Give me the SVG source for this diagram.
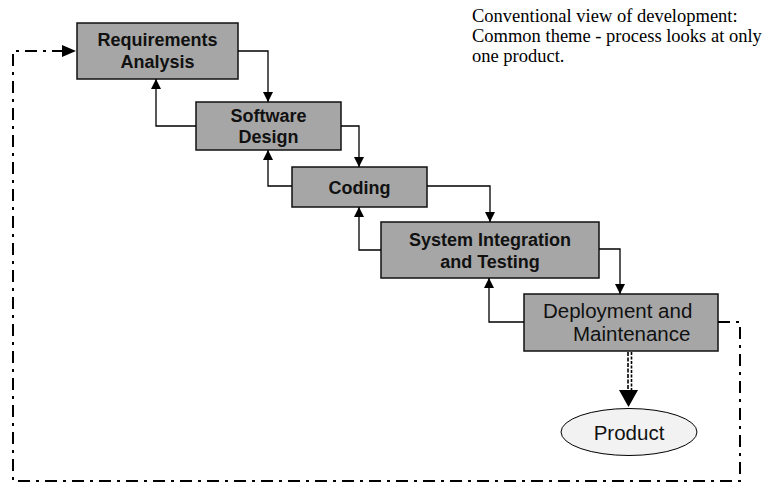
<svg xmlns="http://www.w3.org/2000/svg" width="767" height="483" viewBox="0 0 767 483">
  <defs>
    <marker id="arrow" viewBox="0 0 10 10" refX="10" refY="5" markerWidth="10" markerHeight="10" markerUnits="userSpaceOnUse" orient="auto">
      <path d="M0,0 L10,5 L0,10 Z" fill="#000"/>
    </marker>
    <style>
      .box { fill: #a6a6a6; stroke: #111; stroke-width: 1.5; }
      .lbl { font-family: "Liberation Sans", Arial, sans-serif; font-size: 18px; font-weight: bold; fill: #111; text-anchor: middle; }
      .lbl2 { font-family: "Liberation Sans", Arial, sans-serif; font-size: 20.5px; fill: #111; }
      .flow { fill: none; stroke: #000; stroke-width: 1.3; marker-end: url(#arrow); }
      .loop { fill: none; stroke: #000; stroke-width: 2; stroke-dasharray: 12 6 3 6; }
      .note { font-family: "Liberation Serif", "Times New Roman", serif; font-size: 18.5px; fill: #000; }
    </style>
  </defs>

  <!-- note text -->
  <g id="note">
    <text class="note" x="472" y="22">Conventional view of development:</text>
    <text class="note" x="472" y="42">Common theme - process looks at only</text>
    <text class="note" x="472" y="62">one product.</text>
  </g>

  <!-- phases -->
  <g id="requirements">
    <rect class="box" x="77" y="23" width="161" height="56"/>
    <text class="lbl" x="157.5" y="46">Requirements</text>
    <text class="lbl" x="157.5" y="68">Analysis</text>
  </g>
  <g id="design">
    <rect class="box" x="196" y="102" width="145" height="48"/>
    <text class="lbl" x="268.5" y="122">Software</text>
    <text class="lbl" x="268.5" y="143">Design</text>
  </g>
  <g id="coding">
    <rect class="box" x="292" y="167" width="135" height="40"/>
    <text class="lbl" x="359.5" y="194">Coding</text>
  </g>
  <g id="integration">
    <rect class="box" x="381" y="222" width="218" height="56"/>
    <text class="lbl" x="490" y="246">System Integration</text>
    <text class="lbl" x="490" y="268">and Testing</text>
  </g>
  <g id="deployment">
    <rect class="box" x="524" y="294" width="194" height="57"/>
    <text class="lbl2" x="543" y="318">Deployment and</text>
    <text class="lbl2" x="573" y="341">Maintenance</text>
  </g>
  <g id="product">
    <ellipse cx="629" cy="432" rx="68" ry="23.5" fill="#f2f2f2" stroke="#000" stroke-width="1"/>
    <text class="lbl2" x="629" y="440" text-anchor="middle">Product</text>
  </g>

  <!-- connectors -->
  <g id="connectors">
    <path class="flow" d="M238,51 H268 V102"/>
    <path class="flow" d="M196,126 H156 V79"/>
    <path class="flow" d="M341,126 H359 V167"/>
    <path class="flow" d="M292,186 H268 V150"/>
    <path class="flow" d="M427,186 H490 V222"/>
    <path class="flow" d="M381,250 H359 V207"/>
    <path class="flow" d="M599,249 H620 V294"/>
    <path class="flow" d="M524,322 H489 V278"/>

    <!-- feedback loop -->
    <path class="loop" d="M718,322 H740 V481 H13 V51 H64"/>
    <path d="M62,45 L76,51 L62,57 Z" fill="#000"/>

    <!-- release to product -->
    <line x1="628" y1="352" x2="628" y2="391" stroke="#000" stroke-width="1.6" stroke-dasharray="4 1.5"/>
    <line x1="631.5" y1="352" x2="631.5" y2="391" stroke="#000" stroke-width="1.6" stroke-dasharray="3 1.5"/>
    <path d="M619,390 L638,390 L628.5,407 Z" fill="#000"/>
  </g>
</svg>
